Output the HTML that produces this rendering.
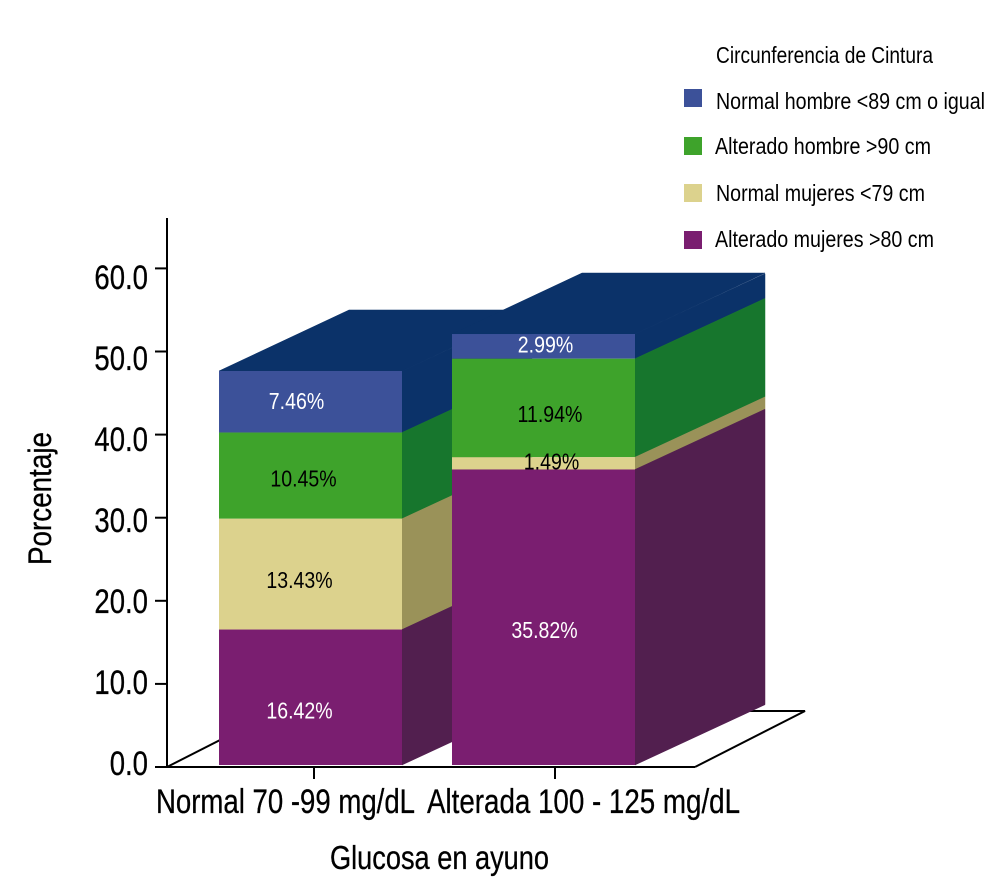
<!DOCTYPE html>
<html lang="es">
<head>
<meta charset="utf-8">
<title>Circunferencia de cintura y glucosa en ayuno</title>
<style>
html,body{margin:0;padding:0;background:#fff}
svg{display:block}
text{font-family:"Liberation Sans",sans-serif;fill:#000}
.lg{font-size:23px}
.big{stroke:#000;stroke-width:.3px}
</style>
</head>
<body>
<svg id="chart" xmlns="http://www.w3.org/2000/svg" width="1008" height="891" viewBox="0 0 1008 891">
  <g id="floor" fill="none" stroke="#000" stroke-width="2">
    <path d="M167 767L277 711H805L695 767"/>
  </g>
  <g id="bars"></g>
  <g id="axes"></g>
  <text class="big" transform="translate(51,565) rotate(-90)" font-size="32" textLength="133" lengthAdjust="spacingAndGlyphs">Porcentaje</text>
  <text class="big" x="330" y="869" font-size="33" textLength="219" lengthAdjust="spacingAndGlyphs">Glucosa en ayuno</text>
  <g>
    <text class="lg" x="716" y="63" textLength="217" lengthAdjust="spacingAndGlyphs">Circunferencia de Cintura</text>
    <g>
      <rect x="684" y="89" width="18" height="18" fill="#3c5199"/>
      <text class="lg" x="716" y="109" textLength="269" lengthAdjust="spacingAndGlyphs">Normal hombre &lt;89 cm o igual</text>
    </g>
    <g>
      <rect x="684" y="137" width="18" height="18" fill="#3ea32b"/>
      <text class="lg" x="715" y="154" textLength="216" lengthAdjust="spacingAndGlyphs">Alterado hombre &gt;90 cm</text>
    </g>
    <g>
      <rect x="684" y="184" width="18" height="18" fill="#dcd28d"/>
      <text class="lg" x="716" y="201" textLength="209" lengthAdjust="spacingAndGlyphs">Normal mujeres &lt;79 cm</text>
    </g>
    <g>
      <rect x="684" y="231" width="18" height="18" fill="#7a1e70"/>
      <text class="lg" x="715" y="247" textLength="219" lengthAdjust="spacingAndGlyphs">Alterado mujeres &gt;80 cm</text>
    </g>
  </g>
</svg>
<script>
const categories = ["Normal 70 -99 mg/dL", "Alterada 100 - 125 mg/dL"];
const seriesNames = ["alterado-mujeres", "normal-mujeres", "alterado-hombre", "normal-hombre"];
const alteradoMujeres = [16.42, 35.82];
const normalMujeres = [13.43, 1.49];
const alteradoHombre = [10.45, 11.94];
const normalHombre = [7.46, 2.99];
const yTicks = ["0.0", "10.0", "20.0", "30.0", "40.0", "50.0", "60.0"];

const NS = "http://www.w3.org/2000/svg";
const series = [alteradoMujeres, normalMujeres, alteradoHombre, normalHombre];
const frontFill = ["#7a1e70", "#dcd28d", "#3ea32b", "#3c5199"];
const sideFill = ["#521f4f", "#9a9259", "#17762d", "#0b3269"];
const labelFill = ["#fff", "#000", "#000", "#fff"];
const labelNudge = [[0, -1], [0, 6], [4, 4.5], [-3, 0]];
const topFill = "#0b3269";
const depthX = 130, depthY = 60, barW = 183;

function yFront(v) { return 765 - v * 8.25; }
function yTick(v) { return 767 - v * 8.31; }
function yTickLabel(v) { return 775 - v * 8.1; }
function xBar(i) { return 219 + i * 233; }
function xCat(i) { return 314 + i * 241; }
function labelShift(v) {
  if (v < 2) return 6;
  if (v < 4) return 6;
  if (v < 8) return 7;
  if (v < 11) return 11;
  if (v < 15) return 14;
  return 21;
}
function make(tag, attrs, parent, content) {
  const el = document.createElementNS(NS, tag);
  for (const k in attrs) el.setAttribute(k, attrs[k]);
  if (content !== undefined) el.textContent = content;
  parent.appendChild(el);
  return el;
}

const barsG = document.getElementById("bars");
categories.forEach(function (cat, i) {
  const x = xBar(i);
  const stops = [0];
  series.forEach(function (s) { stops.push(stops[stops.length - 1] + s[i]); });
  const group = make("g", {}, barsG);
  
  

  const topY = yFront(stops[4]);
  const topFace = make("polygon", {
    points: [x, topY, x + depthX, topY - depthY - 1, x + barW + depthX, topY - depthY - 1, x + barW, topY].join(" "),
    fill: topFill,
    stroke: topFill,
    "stroke-width": 0.5
  }, group);
  
  

  for (let s = 3; s >= 0; s--) {
    const yB = yFront(stops[s]);
    const yT = yFront(stops[s + 1]);
    const side = make("polygon", {
      points: [x + barW, yT, x + barW + depthX, yT - depthY - 0.3, x + barW + depthX, yB - depthY - 0.3, x + barW, yB].join(" "),
      fill: sideFill[s],
      stroke: sideFill[s],
      "stroke-width": 0.5
    }, group);
    
    
  }
  for (let s = 3; s >= 0; s--) {
    const yB = yFront(stops[s]);
    const yT = yFront(stops[s + 1]);
    const front = make("rect", { x: x, y: yT, width: barW, height: yB - yT, fill: frontFill[s] }, group);
    
    
    const label = make("text", {
      x: x + barW / 2 - 11 + (i === 1 ? 13 : 0) + labelNudge[s][i],
      y: (yT + yB) / 2 + labelShift(series[s][i]),
      "text-anchor": "middle",
      "font-size": 23,
      style: "fill:" + labelFill[s]
    }, group, series[s][i].toFixed(2) + "%");
    
    
    label.setAttribute('textLength', (label.getComputedTextLength() * 0.85).toFixed(1));
    label.setAttribute('lengthAdjust', 'spacingAndGlyphs');
  }
});

const axesG = document.getElementById("axes");
const yLine = make("line", { x1: 167, y1: 218, x2: 167, y2: 768, stroke: "#000", "stroke-width": 2 }, axesG);


const xLine = make("line", { x1: 166, y1: 767, x2: 695, y2: 767, stroke: "#000", "stroke-width": 2 }, axesG);



yTicks.forEach(function (t) {
  const v = parseFloat(t);
  const y = yTick(v);
  const mark = make("line", { x1: 155, y1: y, x2: 167, y2: y, stroke: "#000", "stroke-width": 2 }, axesG);
  
  
  const label = make("text", {
    x: 148, y: yTickLabel(v), "text-anchor": "end", "font-size": 34, "class": "big"
  }, axesG, t);
  
  
  label.setAttribute('textLength', (label.getComputedTextLength() * 0.81).toFixed(1));
  label.setAttribute('lengthAdjust', 'spacingAndGlyphs');
});

categories.forEach(function (cat, i) {
  const x = xCat(i);
  const mark = make("line", { x1: x, y1: 767, x2: x, y2: 779, stroke: "#000", "stroke-width": 2 }, axesG);
  
  
  const label = make("text", {
    x: i === 0 ? 156 : 427, y: 813, "font-size": 34, "class": "big"
  }, axesG, cat);
  
  
  label.setAttribute('textLength', i === 0 ? 259 : 313);
  label.setAttribute('lengthAdjust', 'spacingAndGlyphs');
});
</script>
</body>
</html>
